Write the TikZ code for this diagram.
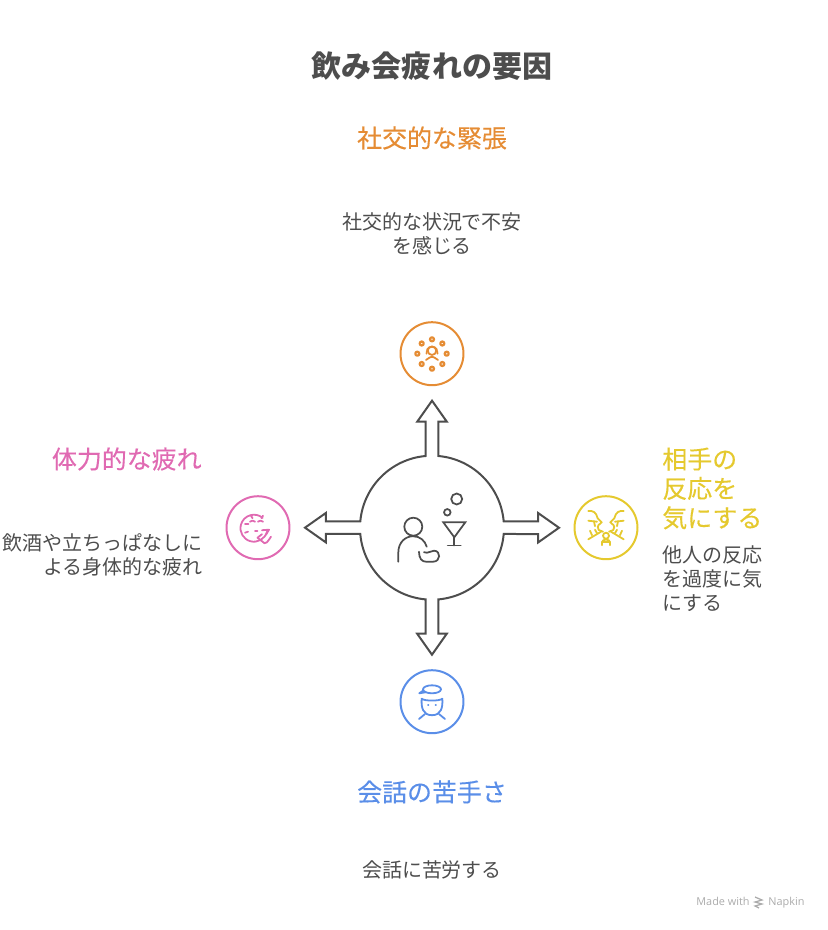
\documentclass[tikz,border=0pt]{standalone}
\usepackage{fontspec}
\setmainfont{Noto Sans CJK JP}
\newfontfamily\headfont[FakeBold=0.25]{Noto Sans CJK JP}
\newfontfamily\markfont{Open Sans}
\definecolor{inkgray}{HTML}{4D4D4D}
\definecolor{markgray}{HTML}{ABABAB}
\definecolor{socialorange}{HTML}{E58C34}
\definecolor{bodypink}{HTML}{E06AB2}
\definecolor{reactyellow}{HTML}{E5C92E}
\definecolor{talkblue}{HTML}{5A8EE8}
\tikzset{
	titletext/.style={text=inkgray,font=\bfseries\fontsize{17.1}{20}\selectfont},
	headtext/.style={font=\headfont\fontsize{14.2}{16.7}\selectfont,inner sep=0},
	bodytext/.style={text=inkgray,font=\fontsize{11.38}{13.6}\selectfont,inner sep=0},
	marktext/.style={text=markgray,font=\markfont\fontsize{6.2}{8}\selectfont,inner sep=0,anchor=base west},
	iconring/.style={circle,draw=#1,line width=0.04cm,minimum size=1.26cm,inner sep=0},
	iconline/.style={draw=#1,line width=0.036cm,line cap=round,line join=round},
	hubline/.style={draw=inkgray,line width=0.04cm,line join=miter},
}
\begin{document}
\begin{tikzpicture}[x=0.02cm,y=-0.02cm]
	\useasboundingbox (0,0) rectangle (828,930);
	\node[titletext] (title) at (432,66.5) {飲み会疲れの要因};

	% centre with its four block arrows
	\node[circle,minimum size=2.88cm,inner sep=0,outer sep=0] (hub) at (432,527.7) {};
	\draw[hubline] (hub.95) -- ++(0,-34.3) -- ++(-8.5,0) -- ++(14.8,-21) -- ++(14.8,21) -- ++(-8.5,0) -- (hub.85)
		arc[start angle=85,end angle=5,radius=1.44cm]
		-- ++(34.3,0) -- ++(0,-8.5) -- ++(21,14.8) -- ++(-21,14.8) -- ++(0,-8.5) -- (hub.-5)
		arc[start angle=-5,end angle=-85,radius=1.44cm]
		-- ++(0,34.3) -- ++(8.5,0) -- ++(-14.8,21) -- ++(-14.8,-21) -- ++(8.5,0) -- (hub.-95)
		arc[start angle=-95,end angle=-175,radius=1.44cm]
		-- ++(-34.3,0) -- ++(0,8.5) -- ++(-21,-14.8) -- ++(21,-14.8) -- ++(0,8.5) -- (hub.175)
		arc[start angle=175,end angle=95,radius=1.44cm] -- cycle;

	% person and glass
	\begin{scope}[shift={(hub.center)},line width=0.035cm,draw=inkgray,line cap=round]
		\draw (-18.7,-1) circle[radius=0.18cm];
		\draw (-33.7,34) -- (-33.7,25) .. controls (-33.7,14) and (-26,8.5) .. (-19,8.5)
			.. controls (-12,8.5) and (-7,13) .. (-5.3,19);
		\draw (-13,24) .. controls (-13,31) and (-10,34) .. (-6,34) -- (1,34)
			.. controls (9,34) and (9,23) .. (2,23) .. controls (-1,23) and (-2,25) .. (-5,25) -- (-8,24.5);
		\draw[line join=miter] (11.3,-5.4) -- (33.3,-5.4) -- (22.3,9.6) -- cycle;
		\draw (22.3,9.6) -- (22.3,17.8);
		\draw (15.7,17.8) -- (28.7,17.8);
		\draw (24.7,-28.7) circle[radius=0.11cm];
		\draw (15.3,-15.4) circle[radius=0.065cm];
	\end{scope}

	% social tension
	\node[iconring=socialorange] (socialicon) at (432,353.7) {};
	\begin{scope}[shift={(socialicon.center)},iconline=socialorange]
		\foreach \px/\py in {0/-14.4,-10.3/-10.2,10.3/-10.2,-14.7/0,14.7/0,-10.3/10.3,10.3/10.3,0/15}
			{\draw[line width=0.045cm] (\px,\py) circle[radius=0.04cm];}
		\draw (0,-3) circle[radius=0.085cm];
		\draw (-5,-3) -- (-5.5,0);
		\draw (5,-3) -- (5.5,0);
		\draw (-5,-4) .. controls (-3,-8) and (3,-8) .. (5,-4);
		\draw (-6,6.3) .. controls (-3,4.5) and (-2,3) .. (0,3) .. controls (2,3) and (3,4.5) .. (6,6.3);
	\end{scope}
	\node[headtext,text=socialorange] (socialhead) at (432,138) {社交的な緊張};
	\node[bodytext,align=center] (socialbody) at (432,233.5) {社交的な状況で不安\\を感じる};

	% physical fatigue
	\node[iconring=bodypink] (bodyicon) at (258,527.7) {};
	\begin{scope}[shift={(bodyicon.center)},iconline=bodypink]
		\draw (9,4) arc[start angle=-15,end angle=-310,radius=0.27cm];
		\draw (-7,-12) -- (-5.5,-9.5);
		\draw (5,-12) -- (3.5,-9.5);
		\draw (-13,-4) -- (-9.5,-4);
		\draw (-13,5) -- (-10,4);
		\draw (-8,-6) .. controls (-6.5,-7.5) and (-4.5,-7.5) .. (-3,-6);
		\draw (0,-6) .. controls (1.5,-7.5) and (3.5,-7.5) .. (5,-6);
		\draw (-3,3) -- (-0.5,3);
		\draw (4,2.5) -- (11,2) -- (8,7);
		\draw (-0.5,10) -- (6.5,15.5) .. controls (8,16) and (9,15) .. (13,9);
		\draw (-0.5,10) -- (4,6.5);
	\end{scope}
	\node[headtext,text=bodypink,anchor=east] (bodyhead) at (202,459) {体力的な疲れ};
	\node[bodytext,align=right,anchor=east] (bodybody) at (203,554.5) {飲酒や立ちっぱなしに\\よる身体的な疲れ};

	% worry about reactions
	\node[iconring=reactyellow] (reacticon) at (606,527.7) {};
	\foreach \side in {1,-1} {
	\begin{scope}[shift={(reacticon.center)},xscale=\side,iconline=reactyellow]
		\draw (-17.7,-16.7) .. controls (-13,-17) and (-10,-16) .. (-8.3,-9.4)
			.. controls (-7,-7) and (-5,-7) .. (-4.3,-5.4) .. controls (-6,-3) and (-10,-3) .. (-7.3,2.3) -- (-3,4);
		\draw (-17.7,11.6) -- (-5,4);
		\draw (-16,3) -- (-14,7.5);
		\draw (-11,2) -- (-9,5.5);
		\draw (-17.7,-7) -- (-9,-6);
		\draw (-12,-6.5) -- (-11,-1.5);
	\end{scope}
	}
	\begin{scope}[shift={(reacticon.center)},iconline=reactyellow]
		\draw (0,8) circle[radius=0.06cm];
		\draw (-4,17.5) -- (-4,14.5) .. controls (-4,11) and (4,11) .. (4,14.5) -- (4,17.5);
		\draw (-4,14) -- (4,14);
	\end{scope}
	\node[headtext,text=reactyellow,align=left,anchor=west] (reacthead) at (662,488.5) {相手の\\反応を\\気にする};
	\node[bodytext,align=left,anchor=west] (reactbody) at (662,579) {他人の反応\\を過度に気\\にする};

	% awkward conversation
	\node[iconring=talkblue] (talkicon) at (432,701.7) {};
	\begin{scope}[shift={(talkicon.center)},iconline=talkblue]
		\draw (0,-12.4) ellipse[x radius=9,y radius=4];
		\draw (-6,-9.5) -- (-12.7,-8.4) -- (-9,-11);
		\draw (-10.3,-3) .. controls (-11,6) and (-9,13.5) .. (0,13.5) .. controls (9,13.5) and (11,6) .. (10.3,-3);
		\draw (-10.3,-3) .. controls (-8,-0.5) and (8,-0.5) .. (10.3,-3);
		\draw (-4,3.6) -- (-3.6,3.6);
		\draw (3.6,3.6) -- (4,3.6);
		\draw (-13,17.3) -- (-7,12.3);
		\draw (13,17.3) -- (7,12.3);
	\end{scope}
	\node[headtext,text=talkblue] (talkhead) at (432,792) {会話の苦手さ};
	\node[bodytext] (talkbody) at (432,870) {会話に苦労する};

	% footer
	\node[marktext] (madewith) at (696,905) {Made with};
	\node[marktext] (napkin) at (768,905) {Napkin};
	\draw[markgray,line width=0.025cm] (755,897) -- (762,900) -- (755,902) -- (762,904) -- (755,906) -- (759,908);
\end{tikzpicture}
\end{document}
